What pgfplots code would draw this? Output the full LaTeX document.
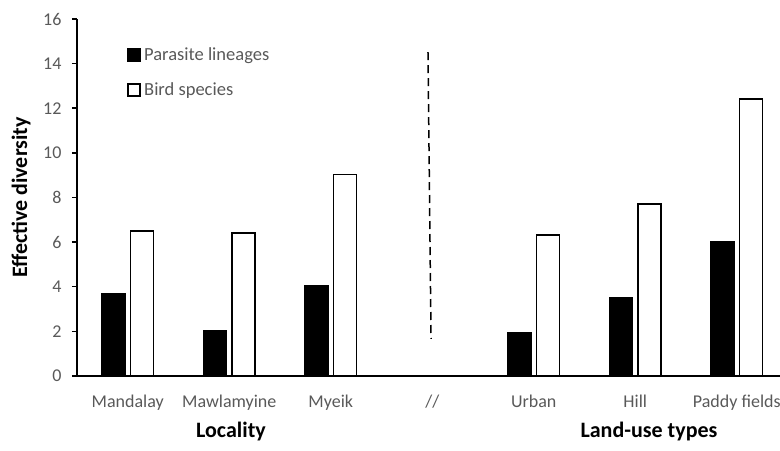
\documentclass[border=0pt]{standalone}
\usepackage{fontspec}
\setmainfont{Carlito}
\usepackage{pgfplots}
\pgfplotsset{compat=1.18}
\definecolor{lab}{HTML}{595959}
\begin{document}
\begin{tikzpicture}
\begin{axis}[
  scale only axis, width=703pt, height=357pt,
  clip=false,
  ybar=5.5pt, bar width=23pt,
  xmin=-0.5, xmax=6.426, ymin=0, ymax=16,
  axis x line*=bottom, axis y line*=left,
  axis line style={line width=1.5pt, black},
  xtick={0,...,6},
  xticklabels={Mandalay,Mawlamyine,Myeik,//,Urban,Hill,Paddy fields},
  x tick style={draw=none},
  minor xtick={-0.5,0.5,...,5.5},
  minor x tick style={line width=1.5pt, black},
  minor tick length=5pt,
  ytick={0,2,...,16}, major tick length=5pt, tick align=outside,
  y tick style={line width=1.5pt, black},
  tick label style={font=\fontsize{18}{20}\selectfont, text=lab},
  /pgf/number format/assume math mode=true,
  xticklabel style={yshift=-10pt},
  yticklabel style={xshift=-7pt},
  ylabel={Effective diversity},
  every axis y label/.style={at={(rel axis cs:0,0.5)}, rotate=90, anchor=center, yshift=56pt, font=\fontsize{22}{24}\selectfont\bfseries},
  legend style={at={(axis description cs:0.0711,0.9244)}, anchor=north west, draw=none, fill=none,
    font=\fontsize{18.5}{20}\selectfont, text=lab, row sep=18pt, inner sep=0pt,
    nodes={inner sep=1.5pt}},
  legend cell align=left,
]
\addplot[fill=black, draw=black, line width=1.5pt,
  legend image code/.code={\draw[fill=black,draw=black,line width=1.5pt] (0pt,-6pt) rectangle (12pt,6pt);}]
  coordinates {(0,3.68) (1,2.02) (2,4.05) (4,1.94) (5,3.51) (6,6.0)};
\addlegendentry{\hspace{2pt}Parasite lineages}
\addplot[fill=white, draw=black, line width=1.5pt,
  legend image code/.code={\draw[fill=white,draw=black,line width=1.5pt] (0pt,-6pt) rectangle (12pt,6pt);}]
  coordinates {(0,6.50) (1,6.40) (2,9.03) (4,6.31) (5,7.71) (6,12.42)};
\addlegendentry{\hspace{2pt}Bird species}
\draw[line width=1.5pt, dash pattern=on 8pt off 5pt] (axis cs:2.958,14.52) -- (axis cs:2.988,1.66);
\node[anchor=base, font=\fontsize{22}{24}\selectfont\bfseries] at (axis cs:1.017,0) [yshift=-62pt] {Locality};
\node[anchor=base, font=\fontsize{22}{24}\selectfont\bfseries] at (axis cs:5.135,0) [yshift=-62pt] {Land-use types};
\coordinate (sw) at (rel axis cs:0,0);
\coordinate (ne) at (rel axis cs:1,1);
\end{axis}
\pgfresetboundingbox
\path[use as bounding box] ([xshift=-77pt,yshift=-75pt]sw) rectangle ([yshift=19pt]ne);
\end{tikzpicture}
\end{document}
